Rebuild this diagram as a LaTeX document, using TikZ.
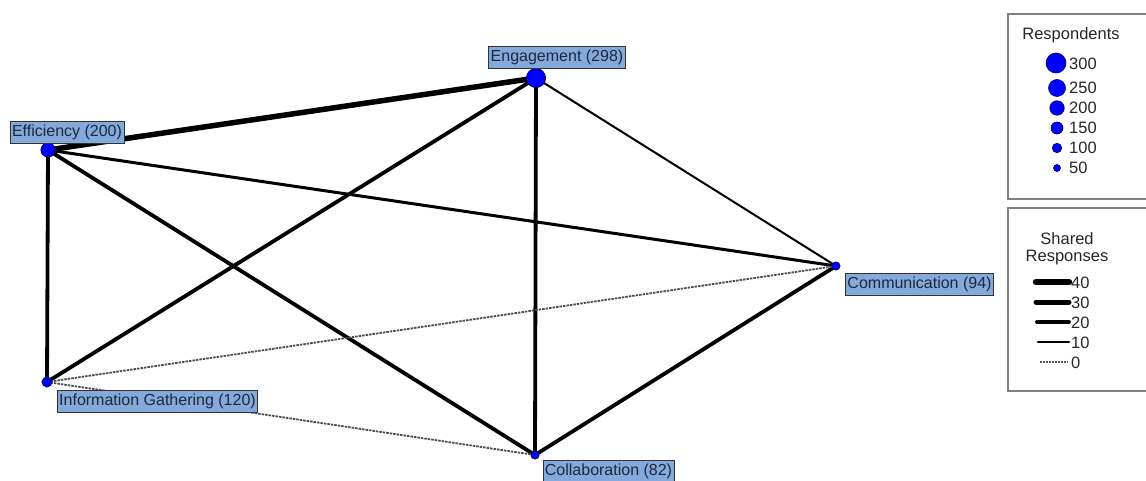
\documentclass[tikz,border=0pt]{standalone}
\usepackage{fontspec}
\setmainfont{Liberation Sans}
\definecolor{lblfill}{RGB}{132,169,219}
\definecolor{lbltext}{RGB}{30,40,60}
\definecolor{nodeblue}{RGB}{0,0,255}
\definecolor{legborder}{RGB}{128,128,128}
\begin{document}
\begin{tikzpicture}[x=1pt,y=-1pt,
  vert/.style={circle,fill=nodeblue,draw=blue!40!black,line width=0.6pt,inner sep=0pt,minimum size=#1},
  lbl/.style={draw=black!80,line width=0.8pt,fill=lblfill,text=lbltext,font=\fontsize{16}{18}\selectfont,inner xsep=2pt,inner ysep=2.5pt,minimum height=22pt},
  edge/.style={line width=#1,black},
  zeroedge/.style={line width=1.8pt,black!70,dash pattern=on 2.5pt off 1pt},
  legbox/.style={draw=legborder,line width=2.5pt},
  legtxt/.style={font=\fontsize{16.5}{16}\selectfont,text=black!85,inner sep=0pt},
  legdot/.style={circle,fill=nodeblue,draw=blue!40!black,line width=0.6pt,inner sep=0pt,minimum size=#1}
]
\useasboundingbox (0,0) rectangle (1146,481);

% vertices
\node[vert=14pt] (eff) at (48,150) {};
\node[vert=19pt] (eng) at (536,78) {};
\node[vert=8pt] (com) at (836,266) {};
\node[vert=10pt] (inf) at (47,382) {};
\node[vert=8pt] (col) at (535,455) {};

% edges
\draw[edge=5.5pt] (eff.center) -- (eng.center);
\draw[edge=3.8pt] (eff.center) -- (inf.center);
\draw[edge=3.8pt] (eff.center) -- (col.center);
\draw[edge=3.0pt] (eff.center) -- (com.center);
\draw[edge=3.8pt] (eng.center) -- (inf.center);
\draw[edge=3.8pt] (eng.center) -- (col.center);
\draw[edge=2.0pt] (eng.center) -- (com.center);
\draw[edge=3.8pt] (com.center) -- (col.center);
\draw[zeroedge] (inf.center) -- (com.center);
\draw[zeroedge] (inf.center) -- (col.center);

% redraw vertices on top
\node[vert=14pt] at (eff) {};
\node[vert=19pt] at (eng) {};
\node[vert=8pt] at (com) {};
\node[vert=10pt] at (inf) {};
\node[vert=8pt] at (col) {};

% labels
\node[lbl] (leff) at (67,132) {Efficiency (200)};
\node[lbl] (leng) at (557,57) {Engagement (298)};
\node[lbl] (lcom) at (919.5,284.5) {Communication (94)};
\node[lbl] (linf) at (157.5,401) {Information Gathering (120)};
\node[lbl] (lcol) at (608.5,471) {Collaboration (82)};

% legend: respondents
\draw[legbox] (1008,14) rectangle (1150,199);
\node[legtxt] (rt) at (1071,35) {Respondents};
\node[legdot=20pt] (r300) at (1056,63) {};
\node[legdot=17pt] (r250) at (1057,88) {};
\node[legdot=14.5pt] (r200) at (1057,108) {};
\node[legdot=12pt] (r150) at (1057,128) {};
\node[legdot=9.5pt] (r100) at (1057,148) {};
\node[legdot=7pt] (r50) at (1057,168) {};
\node[legtxt,anchor=west] at (1069,64) {300};
\node[legtxt,anchor=west] at (1069,88) {250};
\node[legtxt,anchor=west] at (1069,108) {200};
\node[legtxt,anchor=west] at (1069,128) {150};
\node[legtxt,anchor=west] at (1069,148) {100};
\node[legtxt,anchor=west] at (1069,168) {50};

% legend: shared responses
\draw[legbox] (1008,208) rectangle (1150,391);
\node[legtxt] (st1) at (1067,238.5) {Shared};
\node[legtxt] (st2) at (1067,258) {Responses};
\coordinate (s40a) at (1036,282); \coordinate (s40b) at (1069,282);
\coordinate (s30a) at (1036,302); \coordinate (s30b) at (1069,302);
\coordinate (s20a) at (1037,322); \coordinate (s20b) at (1069,322);
\coordinate (s10a) at (1038,342); \coordinate (s10b) at (1069,342);
\coordinate (s0a) at (1040,362); \coordinate (s0b) at (1068,362);
\draw[line width=6.5pt,line cap=round] (s40a) -- (s40b);
\draw[line width=5pt,line cap=round] (s30a) -- (s30b);
\draw[line width=3.8pt,line cap=round] (s20a) -- (s20b);
\draw[line width=2.8pt,line cap=round] (s10a) -- (s10b);
\draw[line width=1.6pt,black!65,dash pattern=on 2pt off 1pt] (s0a) -- (s0b);
\node[legtxt,anchor=west] at (1071,283) {40};
\node[legtxt,anchor=west] at (1071,303) {30};
\node[legtxt,anchor=west] at (1071,323) {20};
\node[legtxt,anchor=west] at (1071,343) {10};
\node[legtxt,anchor=west] at (1071,363) {0};
\end{tikzpicture}
\end{document}
